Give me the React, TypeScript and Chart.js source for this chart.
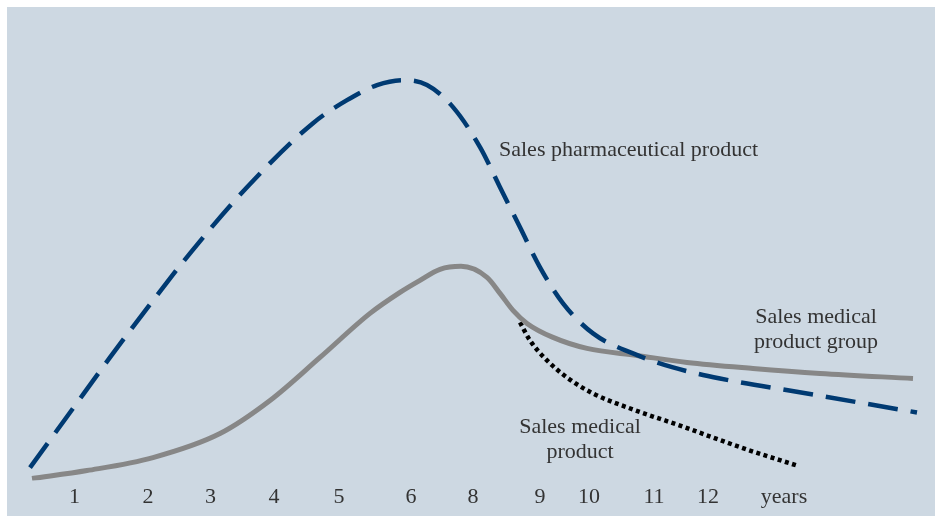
import React, { useEffect, useRef } from "react";
import { Chart, registerables } from "chart.js";

Chart.register(...registerables);

// Horizontal time index (0..928) and sales index (0..473)
const tickPositions = [67.5, 141, 203.5, 267, 332, 404, 466, 533, 582, 647, 701, 777];
const tickLabels = ["1", "2", "3", "4", "5", "6", "8", "9", "10", "11", "12", "years"];

const pharmaX = [23, 63, 103, 143, 183, 240, 306, 340, 370, 396, 420, 446, 473, 493, 513, 533, 556, 586, 626, 666, 713, 800, 910];
const pharmaY = [13, 68, 123, 176, 227, 293, 357, 380, 395, 400, 395, 373, 333, 293, 253, 213, 177, 147, 127, 113, 102, 87, 68];

const groupX = [25, 80, 146, 213, 263, 313, 363, 393, 413, 433, 454, 480, 493, 506, 520, 546, 580, 630, 680, 746, 813, 906];
const groupY = [2, 10, 23, 47, 80, 123, 167, 188, 200, 211, 214, 203, 187, 170, 157, 143, 132, 125, 118, 112, 107, 102];

const productX = [513, 523, 540, 560, 586, 626, 646, 673, 706, 740, 790];
const productY = [158, 140, 120, 103, 87, 71, 64, 55, 43, 31, 15];

const annotationTexts = [
  ["Sales pharmaceutical product"],
  ["Sales medical", "product group"],
  ["Sales medical", "product"],
];
const annotationX = [492, 809, 573];
const annotationY = [330, 163, 53];

const toPoints = (xs: number[], ys: number[]) => xs.map((x, i) => ({ x, y: ys[i] }));

const annotationPlugin = {
  id: "annotations",
  afterDatasetsDraw(chart: any) {
    const { ctx, scales } = chart;
    ctx.save();
    ctx.font = "22px 'Liberation Serif'";
    ctx.fillStyle = "#333333";
    ctx.textBaseline = "middle";
    annotationTexts.forEach((lines, i) => {
      const px = scales.x.getPixelForValue(annotationX[i]);
      const py = scales.y.getPixelForValue(annotationY[i]);
      ctx.textAlign = i === 0 ? "left" : "center";
      lines.forEach((line, j) => {
        ctx.fillText(line, px, py + j * 25);
      });
    });
    ctx.restore();
  },
};

export default function App() {
  const ref = useRef<HTMLCanvasElement | null>(null);
  useEffect(() => {
    if (!ref.current) return;
    const chart = new Chart(ref.current, {
      type: "line",
      data: {
        datasets: [
          {
            label: "Sales pharmaceutical product",
            data: toPoints(pharmaX, pharmaY),
            borderColor: "#003a72",
            borderWidth: 4.5,
            borderDash: [30, 13],
            pointRadius: 0,
            cubicInterpolationMode: "monotone",
            fill: false,
          },
          {
            label: "Sales medical product group",
            data: toPoints(groupX, groupY),
            borderColor: "#878787",
            borderWidth: 5,
            pointRadius: 0,
            cubicInterpolationMode: "monotone",
            fill: false,
          },
          {
            label: "Sales medical product",
            data: toPoints(productX, productY),
            borderColor: "#000000",
            borderWidth: 4.5,
            borderDash: [4, 3.5],
            pointRadius: 0,
            cubicInterpolationMode: "monotone",
            fill: false,
          },
        ],
      },
      options: {
        animation: false,
        responsive: true,
        maintainAspectRatio: false,
        layout: { padding: { left: 0, right: 0, top: 0, bottom: 3 } },
        plugins: { legend: { display: false }, tooltip: { enabled: false } },
        scales: {
          x: {
            type: "linear",
            min: 0,
            max: 928,
            border: { display: false },
            grid: { display: false, drawTicks: false },
            afterBuildTicks: (axis: any) => {
              axis.ticks = tickPositions.map((v) => ({ value: v }));
            },
            ticks: {
              autoSkip: false,
              maxRotation: 0,
              padding: 3,
              color: "#333333",
              font: { family: "'Liberation Serif'", size: 22 },
              callback: (_v: any, i: number) => tickLabels[i],
            },
          },
          y: {
            type: "linear",
            display: false,
            min: 0,
            max: 473,
          },
        },
      },
      plugins: [annotationPlugin],
    });
    return () => chart.destroy();
  }, []);
  return (
    <div
      style={{
        position: "fixed",
        left: 7,
        top: 7,
        width: 928,
        height: 509,
        background: "#cdd8e2",
      }}
    >
      <canvas ref={ref} />
    </div>
  );
}
